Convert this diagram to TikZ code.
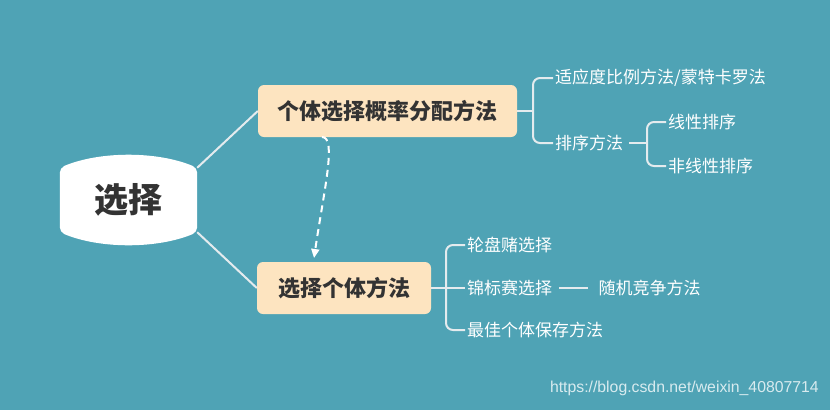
\documentclass[tikz,border=0pt]{standalone}
\usepackage{fontspec}
\setmainfont{Noto Sans CJK SC}
\newfontfamily\urlfont{Liberation Sans}
\usetikzlibrary{arrows.meta,positioning}

\definecolor{bgteal}{HTML}{4FA3B5}
\definecolor{peach}{HTML}{FDE4C0}
\definecolor{ink}{HTML}{333333}
\definecolor{wire}{HTML}{E4EBEE}

\begin{document}
\begin{tikzpicture}[x=1pt, y=-1pt,
    centre/.style = {minimum width=137pt, minimum height=64pt, inner sep=0pt, text=ink, font=\fontsize{34}{34}\selectfont\bfseries},
    box/.style = {fill=peach, rounded corners=6pt, minimum height=52pt, inner sep=0pt, text=ink, font=\fontsize{22}{22}\selectfont\bfseries},
    leaf/.style = {anchor=west, inner sep=2pt, text=white, font=\fontsize{17}{17}\selectfont},
    branch/.style = {draw=wire, line width=2pt},
    flow/.style = {draw=white, line width=2pt, dash pattern=on 7pt off 5pt, -{Triangle[length=9pt, width=8pt]}}]
    \fill[bgteal] (0,0) rectangle (830,410);
    \useasboundingbox (0,0) rectangle (830,410);

    \node[centre] (1) at (128.5,200) {选择};
    \fill[white, rounded corners=5pt] (1.north west) .. controls (100,151) and (157,151) .. (1.north east)
        -- (1.south east) .. controls (157,249) and (100,249) .. (1.south west) -- cycle;
    \node[centre] at (1) {选择};

    \node[box, minimum width=259pt] (2) at (387.5,111) {个体选择概率分配方法};
    \node[box, minimum width=174pt] (3) at (344,288) {选择个体方法};

    \node[leaf] (4) at (553,78)  {适应度比例方法/蒙特卡罗法};
    \node[leaf] (5) at (553,143) {排序方法};
    \node[leaf] (6) at (666,122) {线性排序};
    \node[leaf] (7) at (666,166) {非线性排序};

    \node[leaf] (8)  at (465,245) {轮盘赌选择};
    \node[leaf] (9)  at (465,288) {锦标赛选择};
    \node[leaf] (10) [right=42pt of 9] {随机竞争方法};
    \node[leaf] (11) at (465,330) {最佳个体保存方法};

    \draw[branch] (1.north east) -- (2.west);
    \draw[branch] (1.south east) -- (3.west);

    \draw[branch] (2.east) -- (533,111);
    \draw[branch, rounded corners=7pt] (4.west) -- (533,78) -- (533,143) -- (5.west);
    \draw[branch] (5.east) ++(4,0) -- (647,143);
    \draw[branch, rounded corners=7pt] (6.west) -- (647,122) -- (647,166) -- (7.west);

    \draw[branch] (3.east) -- (9.west);
    \draw[branch, rounded corners=7pt] (8.west) -- (446,245) -- (446,330) -- (11.west);
    \draw[branch, shorten <=5pt, shorten >=8pt] (9) -- (10);

    \draw[flow] (322,137) .. controls (337,137) and (324,190) .. (314,258);

    \node[anchor=east, inner sep=0pt, text=white!78!bgteal, font=\urlfont\fontsize{15.8}{15.8}\selectfont] (12) at (819,388) {https://blog.csdn.net/weixin\_40807714};
\end{tikzpicture}
\end{document}
